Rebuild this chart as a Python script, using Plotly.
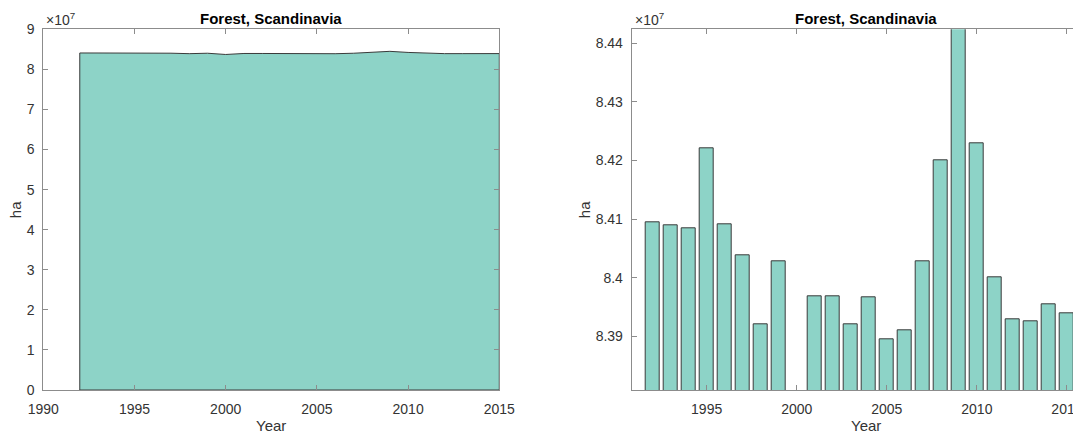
import plotly.graph_objects as go

years = list(range(1992, 2016))
forest_ha = [
    84094500, 84089400, 84083600, 84220100, 84091100, 84038200,
    83919800, 84028500, 83720000, 83968300, 83968300, 83919800,
    83967000, 83894900, 83909600, 84027300, 84199700, 84500000,
    84229900, 84001200, 83929500, 83926100, 83953900, 83939200,
]

left_tickvals = [0, 1e7, 2e7, 3e7, 4e7, 5e7, 6e7, 7e7, 8e7, 9e7]
left_ticktext = ["0", "1", "2", "3", "4", "5", "6", "7", "8", "9"]
right_tickvals = [8.39e7, 8.40e7, 8.41e7, 8.42e7, 8.43e7, 8.44e7]
right_ticktext = ["8.39", "8.4", "8.41", "8.42", "8.43", "8.44"]
x_tickvals = [1990, 1995, 2000, 2005, 2010, 2015]
x_ticktext = ["1990", "1995", "2000", "2005", "2010", "2015"]

title_text = "Forest, Scandinavia"
x_label = "Year"
y_label = "ha"

FILL = "#8DD3C7"
EDGE = "#3a3a3a"
AXIS = "#8c8c8c"
TXT = "#333333"
FONT = "Liberation Sans, Arial, sans-serif"

# The page body has an 8px default margin; size the figure so it ends at the
# window edge and convert window pixel positions into paper fractions.
OFF = 8
W, H = 1081 - OFF, 432 - OFF
def px(x):
    return (x - OFF) / W
def py(y):
    return 1 - (y - OFF) / H

fig = go.Figure()

# Left: area (closed polygon so edges show like MATLAB patch)
poly_x = [years[0]] + years + [years[-1], years[0]]
poly_y = [0] + forest_ha + [0, 0]
fig.add_trace(go.Scatter(
    x=poly_x, y=poly_y, mode="lines", fill="toself",
    fillcolor=FILL, line=dict(color=EDGE, width=1),
    xaxis="x", yaxis="y", hoverinfo="skip", showlegend=False,
))

# Right: bars
fig.add_trace(go.Bar(
    x=years, y=forest_ha, width=0.76,
    marker=dict(color=FILL, line=dict(color=EDGE, width=1)),
    xaxis="x2", yaxis="y2", showlegend=False,
))

ydom = [py(390), py(29.3)]
common_x = dict(
    showgrid=False, zeroline=False, showline=True, linecolor=AXIS, linewidth=1,
    mirror="ticks", ticks="inside", ticklen=5, tickcolor=AXIS, tickwidth=1,
    tickfont=dict(family=FONT, size=14, color=TXT), automargin=False,
    tickvals=x_tickvals, ticktext=x_ticktext, ticklabelstandoff=6,
    ticklabeloverflow="allow",
)
common_y = dict(
    showgrid=False, zeroline=False, showline=True, linecolor=AXIS,
    linewidth=1, ticks="inside", ticklen=5, tickcolor=AXIS, tickwidth=1,
    tickfont=dict(family=FONT, size=14, color=TXT), automargin=False,
    ticklabelstandoff=5,
)
fig.update_layout(
    template="none",
    width=W, height=H,
    margin=dict(l=0, r=0, t=0, b=0, autoexpand=False),
    paper_bgcolor="white", plot_bgcolor="white",
    bargap=0, showlegend=False,
    xaxis=dict(domain=[px(43.3), px(499.3)], range=[1990, 2015],
               anchor="y", **common_x),
    yaxis=dict(domain=ydom, range=[0, 9e7], anchor="x", mirror="ticks",
               tickvals=left_tickvals, ticktext=left_ticktext, **common_y),
    xaxis2=dict(domain=[px(631.7), 1.0], range=[1990.84, 2015.78],
                anchor="y2", **common_x),
    yaxis2=dict(domain=ydom, range=[8.38084e7, 8.44239e7], anchor="x2",
                mirror=False, tickvals=right_tickvals,
                ticktext=right_ticktext, **common_y),
)

ann = []
for cx, lx, ex in [((43.3 + 499.3) / 2, 15.5, 44), ((631.7 + 1081 + 20) / 2, 584.5, 633)]:
    ann.append(dict(x=px(cx), y=py(18.6), xref="paper", yref="paper",
                    text="<b>" + title_text + "</b>", showarrow=False,
                    xanchor="center", yanchor="middle",
                    font=dict(family=FONT, size=15, color="#000000")))
    ann.append(dict(x=px(lx), y=py(209.7), xref="paper", yref="paper",
                    text=y_label, textangle=-90, showarrow=False,
                    xanchor="center", yanchor="middle",
                    font=dict(family=FONT, size=15, color=TXT)))
    ann.append(dict(x=px(ex), y=py(30.5), xref="paper", yref="paper",
                    text="×10<sup>7</sup>", showarrow=False,
                    xanchor="left", yanchor="bottom",
                    font=dict(family=FONT, size=14, color=TXT)))
for cx in [(43.3 + 499.3) / 2, 631.7 + (1081 + 20 - 631.7) / 2]:
    ann.append(dict(x=px(cx), y=py(425), xref="paper", yref="paper",
                    text=x_label, showarrow=False, xanchor="center",
                    yanchor="middle",
                    font=dict(family=FONT, size=15, color=TXT)))
fig.update_layout(annotations=ann)

fig.write_html("out.html")
